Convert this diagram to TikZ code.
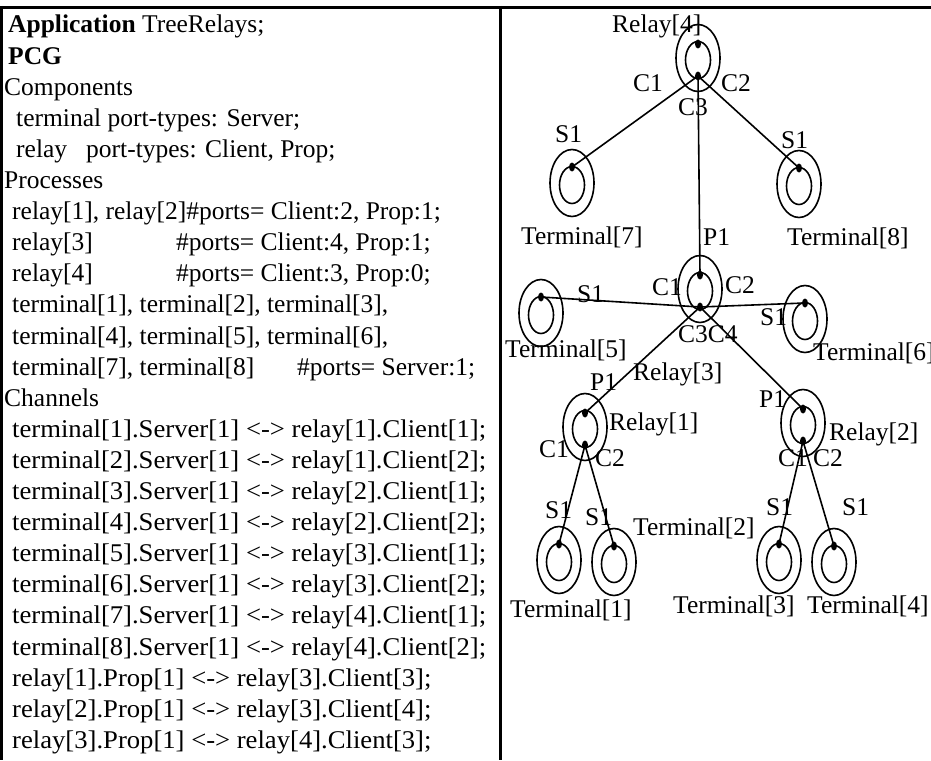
\documentclass[tikz,border=0pt]{standalone}
\usepackage{fontspec}
\setmainfont{Liberation Serif}
\usetikzlibrary{shapes.geometric}
\newcommand{\mkrelay}[3]{%
  \node[outerell] (#1) at (#2,#3) {};
  \node[innerell] (#1i) at (#2,#3+2) {};
  \node[portdot] (#1t) at (#2,#3-14) {};
  \node[portdot] (#1b) at (#2,#3+18) {};}
\newcommand{\mkterm}[3]{%
  \node[outerell] (#1) at (#2,#3) {};
  \node[innerell] (#1i) at (#2,#3+2) {};
  \node[portdot] (#1t) at (#2,#3-16) {};}
\newcommand{\chan}[2]{\scalebox{1.045}[1]{#1 <-> #2}}
\begin{document}
\begin{tikzpicture}[x=1pt,y=-1pt,
  outerell/.style={ellipse, draw, line width=1.6pt, minimum width=44pt, minimum height=67pt, inner sep=0pt, outer sep=0pt},
  innerell/.style={ellipse, draw, line width=1.6pt, minimum width=25pt, minimum height=37pt, inner sep=0pt, outer sep=0pt},
  portdot/.style={ellipse, fill=black, minimum width=6pt, minimum height=9pt, inner sep=0pt, outer sep=0pt},
  lbl/.style={anchor=base west, inner sep=0pt, font=\fontsize{25.5}{30}\selectfont},
  code/.style={anchor=base west, inner sep=0pt, font=\fontsize{25.5}{30}\selectfont},
  link/.style={line width=1.6pt},
  frame/.style={line width=2.5pt}]
\useasboundingbox (0,0) rectangle (931,760);
% frame
\coordinate (tl) at (0,7.3);
\coordinate (tr) at (931,7.3);
\coordinate (lt) at (1.5,6);
\coordinate (lb) at (1.5,760);
\coordinate (mt) at (500.5,6);
\coordinate (mb) at (500.5,760);
\draw[frame] (tl) -- (tr);
\draw[frame] (lt) -- (lb);
\draw[frame] (mt) -- (mb);
% left text
\node[code] (l1) at (8,33) {\textbf{Application} TreeRelays;};
\node[code] (l2) at (8,64.1) {\textbf{PCG}};
\node[code] (l3) at (4,95.2) {Components};
\node[code] (l4) at (16,126.3) {terminal port-types: Server;};
\node[code] (l5a) at (16,157.4) {relay};
\node[code] (l5b) at (86,157.4) {port-types: Client, Prop;};
\node[code] (l6) at (4,188.5) {Processes};
\node[code] (l7) at (12,219.6) {relay[1], relay[2]\#ports= Client:2, Prop:1;};
\node[code] (l8a) at (12,250.7) {relay[3]};
\node[code] (l8b) at (176,250.7) {\#ports= Client:4, Prop:1;};
\node[code] (l9a) at (12,281.8) {relay[4]};
\node[code] (l9b) at (176,281.8) {\#ports= Client:3, Prop:0;};
\node[code] (l10) at (12,312.9) {terminal[1], terminal[2], terminal[3],};
\node[code] (l11) at (12,344) {terminal[4], terminal[5], terminal[6],};
\node[code] (l12a) at (12,375.1) {terminal[7], terminal[8]};
\node[code] (l12b) at (297,375.1) {\#ports= Server:1;};
\node[code] (l13) at (4,406.2) {Channels};
\node[code] (l14) at (12,437.3) {\chan{terminal[1].Server[1]}{relay[1].Client[1];}};
\node[code] (l15) at (12,468.4) {\chan{terminal[2].Server[1]}{relay[1].Client[2];}};
\node[code] (l16) at (12,499.5) {\chan{terminal[3].Server[1]}{relay[2].Client[1];}};
\node[code] (l17) at (12,530.6) {\chan{terminal[4].Server[1]}{relay[2].Client[2];}};
\node[code] (l18) at (12,561.7) {\chan{terminal[5].Server[1]}{relay[3].Client[1];}};
\node[code] (l19) at (12,592.8) {\chan{terminal[6].Server[1]}{relay[3].Client[2];}};
\node[code] (l20) at (12,623.9) {\chan{terminal[7].Server[1]}{relay[4].Client[1];}};
\node[code] (l21) at (12,655) {\chan{terminal[8].Server[1]}{relay[4].Client[2];}};
\node[code] (l22) at (12,686.1) {\chan{relay[1].Prop[1]}{relay[3].Client[3];}};
\node[code] (l23) at (12,717.2) {\chan{relay[2].Prop[1]}{relay[3].Client[4];}};
\node[code] (l24) at (12,748.3) {\chan{relay[3].Prop[1]}{relay[4].Client[3];}};
% tree nodes
\mkrelay{r4}{698}{58}
\mkrelay{r3}{700}{289}
\mkrelay{r1}{585}{427}
\mkrelay{r2}{803}{423}
\mkterm{t7}{572}{183}
\mkterm{t8}{799}{184}
\mkterm{t5}{541}{313}
\mkterm{t6}{805}{319}
\mkterm{t1}{559}{560}
\mkterm{t2}{614}{562}
\mkterm{t3}{779}{560}
\mkterm{t4}{834}{562}
% connectors
\draw[link] (r4b.center) -- (t7t.center);
\draw[link] (r4b.center) -- (t8t.center);
\draw[link] (r4b.center) -- (r3t.center);
\draw[link] (r3b.center) -- (t5t.center);
\draw[link] (r3b.center) -- (t6t.center);
\draw[link] (r3b.center) -- (r1t.center);
\draw[link] (r3b.center) -- (r2t.center);
\draw[link] (r1b.center) -- (t1t.center);
\draw[link] (r1b.center) -- (t2t.center);
\draw[link] (r2b.center) -- (t3t.center);
\draw[link] (r2b.center) -- (t4t.center);
% labels
\node[lbl] (nr4) at (612,33) {Relay[4]};
\node[lbl] (r4c1) at (633,92) {C1};
\node[lbl] (r4c2) at (721,92) {C2};
\node[lbl] (r4c3) at (678,115) {C3};
\node[lbl] (t7s) at (555,142) {S1};
\node[lbl] (t8s) at (781,148) {S1};
\node[lbl] (nt7) at (521,244) {Terminal[7]};
\node[lbl] (r3p) at (703,245) {P1};
\node[lbl] (nt8) at (787,245) {Terminal[8]};
\node[lbl] (r3c1) at (652,295) {C1};
\node[lbl] (r3c2) at (725,293) {C2};
\node[lbl] (t5s) at (577,302) {S1};
\node[lbl] (t6s) at (760,325) {S1};
\node[lbl] (r3c34) at (678,342) {C3C4};
\node[lbl] (nt5) at (505,357) {Terminal[5]};
\node[lbl] (nt6) at (813,360) {Terminal[6]};
\node[lbl] (nr3) at (633,380) {Relay[3]};
\node[lbl] (r1p) at (590,390) {P1};
\node[lbl] (r2p) at (759,407) {P1};
\node[lbl] (nr1) at (609,430) {Relay[1]};
\node[lbl] (nr2) at (829,440) {Relay[2]};
\node[lbl] (r1c1) at (539,457) {C1};
\node[lbl] (r1c2) at (595,466) {C2};
\node[lbl] (r2c1) at (778,466) {C1};
\node[lbl] (r2c2) at (813,466) {C2};
\node[lbl] (t1s) at (545,518) {S1};
\node[lbl] (t2s) at (585,525) {S1};
\node[lbl] (nt2) at (633,535) {Terminal[2]};
\node[lbl] (t3s) at (766,515) {S1};
\node[lbl] (t4s) at (842,515) {S1};
\node[lbl] (nt1) at (510,617) {Terminal[1]};
\node[lbl] (nt3) at (673,613) {Terminal[3]};
\node[lbl] (nt4) at (807,613) {Terminal[4]};
\end{tikzpicture}
\end{document}
